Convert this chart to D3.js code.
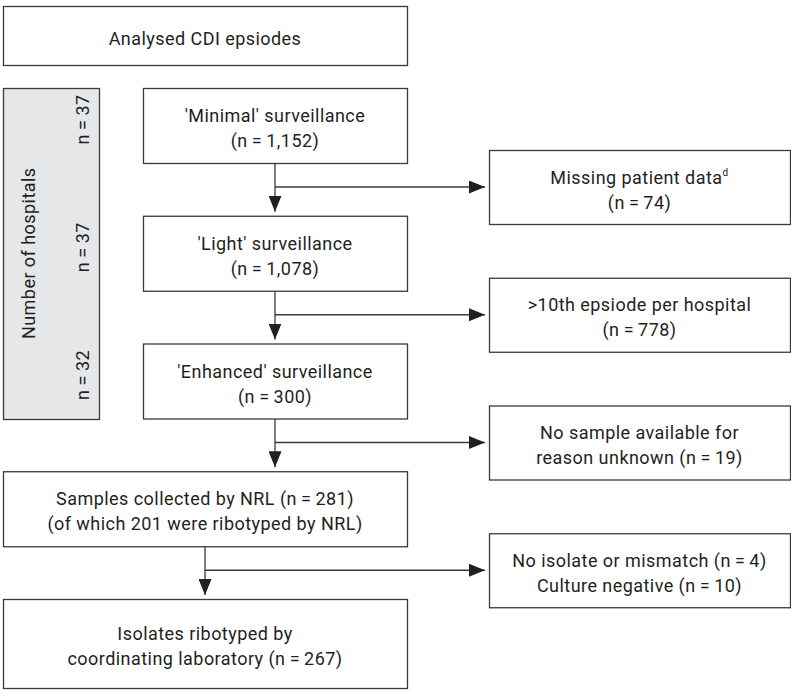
<!DOCTYPE html>
<html>
<head>
<meta charset="utf-8">
<script src="https://cdn.jsdelivr.net/npm/d3@7"></script>
<style>
  body { margin: 0; background: #fff; }
  text { font-family: Roboto, "Liberation Sans Narrow", sans-serif; fill: #231f20; letter-spacing: 0.45px; }
</style>
</head>
<body>
<svg id="flow-svg" width="791" height="690"></svg>
<script>
// main flow steps (text lines of each box)
let mainSteps = [
    ["Analysed CDI epsiodes"],
    ["'Minimal' surveillance", "(n\u2009=\u20091,152)"],
    ["'Light' surveillance", "(n\u2009=\u20091,078)"],
    ["'Enhanced' surveillance", "(n\u2009=\u2009300)"],
    ["Samples collected by NRL (n\u2009=\u2009281)", "(of which 201 were ribotyped by NRL)"],
    ["Isolates ribotyped by", "coordinating laboratory (n\u2009=\u2009267)"]
]

// excluded episodes, branching off after steps 1..4
let exclusionSteps = [
    ["Missing patient data", "(n\u2009=\u200974)"],
    [">10th epsiode per hospital", "(n\u2009=\u2009778)"],
    ["No sample available for", "reason unknown (n\u2009=\u200919)"],
    ["No isolate or mismatch (n\u2009=\u20094)", "Culture negative (n\u2009=\u200910)"]
]
let exclusionNotes = ["d", "", "", ""]

let hospitalLabel = "Number of hospitals"
let hospitalCounts = [37, 37, 32]

function setupFlow() {
    let svg = d3.select("#flow-svg")
    let width = +svg.attr("width")

    let stroke = "#3a3a3a"
    let fontSize = 18
    let lineGap = 25

    // vertical position of each flow row (rows 1..5)
    let yRow = d3.scaleLinear()
        .domain([1, 5])
        .range([88, 599])

    let boxH = 75
    let narrow = { x0: 143, x1: 407 }
    let wide = { x0: 3, x1: 407 }
    let side = { x0: 489, x1: width - 1 }

    let boxes = mainSteps.map((lines, i) => {
        if (i === 0) return { lines, x0: wide.x0, x1: wide.x1, y0: 6, y1: 65 }
        let cols = i >= 4 ? wide : narrow
        let h = i === 5 ? 89 : boxH
        return { lines, x0: cols.x0, x1: cols.x1, y0: yRow(i), y1: yRow(i) + h }
    })

    svg.append("defs").append("marker")
        .attr("id", "arrow")
        .attr("viewBox", "0 0 16 13")
        .attr("refX", 16)
        .attr("refY", 6.5)
        .attr("markerWidth", 16)
        .attr("markerHeight", 13)
        .attr("markerUnits", "userSpaceOnUse")
        .attr("orient", "auto")
      .append("path")
        .attr("d", "M0,0 L16,6.5 L0,13 Z")
        .style("fill", "#231f20")

    // grey side panel with hospital counts
    let panel = svg.append("g")
    panel.append("rect")
        .attr("x", 3.5)
        .attr("y", yRow(1) + 0.5)
        .attr("width", 96)
        .attr("height", yRow(3) + boxH + 0.5 - yRow(1))
        .style("fill", "#e6e7e8")
        .style("stroke", stroke)
        .style("stroke-width", 1.3)

    let panelMid = (yRow(1) + yRow(3) + boxH) / 2
    panel.append("text")
        .attr("transform", "translate(28," + panelMid + ") rotate(-90)")
        .attr("text-anchor", "middle")
        .attr("dominant-baseline", "central")
        .style("font-size", fontSize + "px")
        .text(hospitalLabel)

    panel.selectAll(".hosp-n")
        .data(hospitalCounts)
        .enter().append("text")
            .attr("class", "hosp-n")
            .attr("transform", (d, i) => "translate(82," + (yRow(i + 1) + boxH / 2 - 6) + ") rotate(-90)")
            .attr("text-anchor", "middle")
            .attr("dominant-baseline", "central")
            .style("font-size", fontSize + "px")
            .text(d => "n\u2009=\u2009" + d)

    // arrows between main boxes and branches to exclusions
    let links = svg.append("g")
    boxes.slice(1, 5).forEach((b, i) => {
        let next = boxes[i + 2]
        let cx = (b.x0 + b.x1) / 2
        let branchY = b.y1 + 24
        links.append("line")
            .attr("x1", cx).attr("y1", b.y1)
            .attr("x2", cx).attr("y2", next.y0 - 4)
            .style("stroke", stroke)
            .style("stroke-width", 1.3)
            .attr("marker-end", "url(#arrow)")
        links.append("line")
            .attr("x1", cx).attr("y1", branchY)
            .attr("x2", side.x0 - 4).attr("y2", branchY)
            .style("stroke", stroke)
            .style("stroke-width", 1.3)
            .attr("marker-end", "url(#arrow)")
        b.branchY = branchY
    })

    let sideBoxes = exclusionSteps.map((lines, i) => {
        let by = boxes[i + 1].branchY
        return { lines, note: exclusionNotes[i], x0: side.x0, x1: side.x1, y0: by - 37, y1: by + 37 }
    })

    let allBoxes = boxes.concat(sideBoxes)

    let g = svg.append("g").selectAll("g.box")
        .data(allBoxes)
        .enter().append("g")
            .attr("class", "box")

    g.append("rect")
        .attr("x", d => d.x0 + 0.5)
        .attr("y", d => d.y0 + 0.5)
        .attr("width", d => d.x1 - d.x0)
        .attr("height", d => d.y1 - d.y0)
        .style("fill", "#fff")
        .style("stroke", stroke)
        .style("stroke-width", 1.3)

    g.each(function(d) {
        let cx = (d.x0 + d.x1) / 2
        let cy = (d.y0 + d.y1) / 2 + 2
        let n = d.lines.length
        d.lines.forEach((line, j) => {
            let t = d3.select(this).append("text")
                .attr("x", cx)
                .attr("y", cy + (j - (n - 1) / 2) * lineGap)
                .attr("text-anchor", "middle")
                .attr("dominant-baseline", "central")
                .style("font-size", fontSize + "px")
            t.append("tspan").text(line)
            if (j === 0 && d.note) {
                t.append("tspan")
                    .attr("dy", "-0.45em")
                    .style("font-size", "10px")
                    .text(d.note)
            }
        })
    })
}

setupFlow()
</script>
</body>
</html>
